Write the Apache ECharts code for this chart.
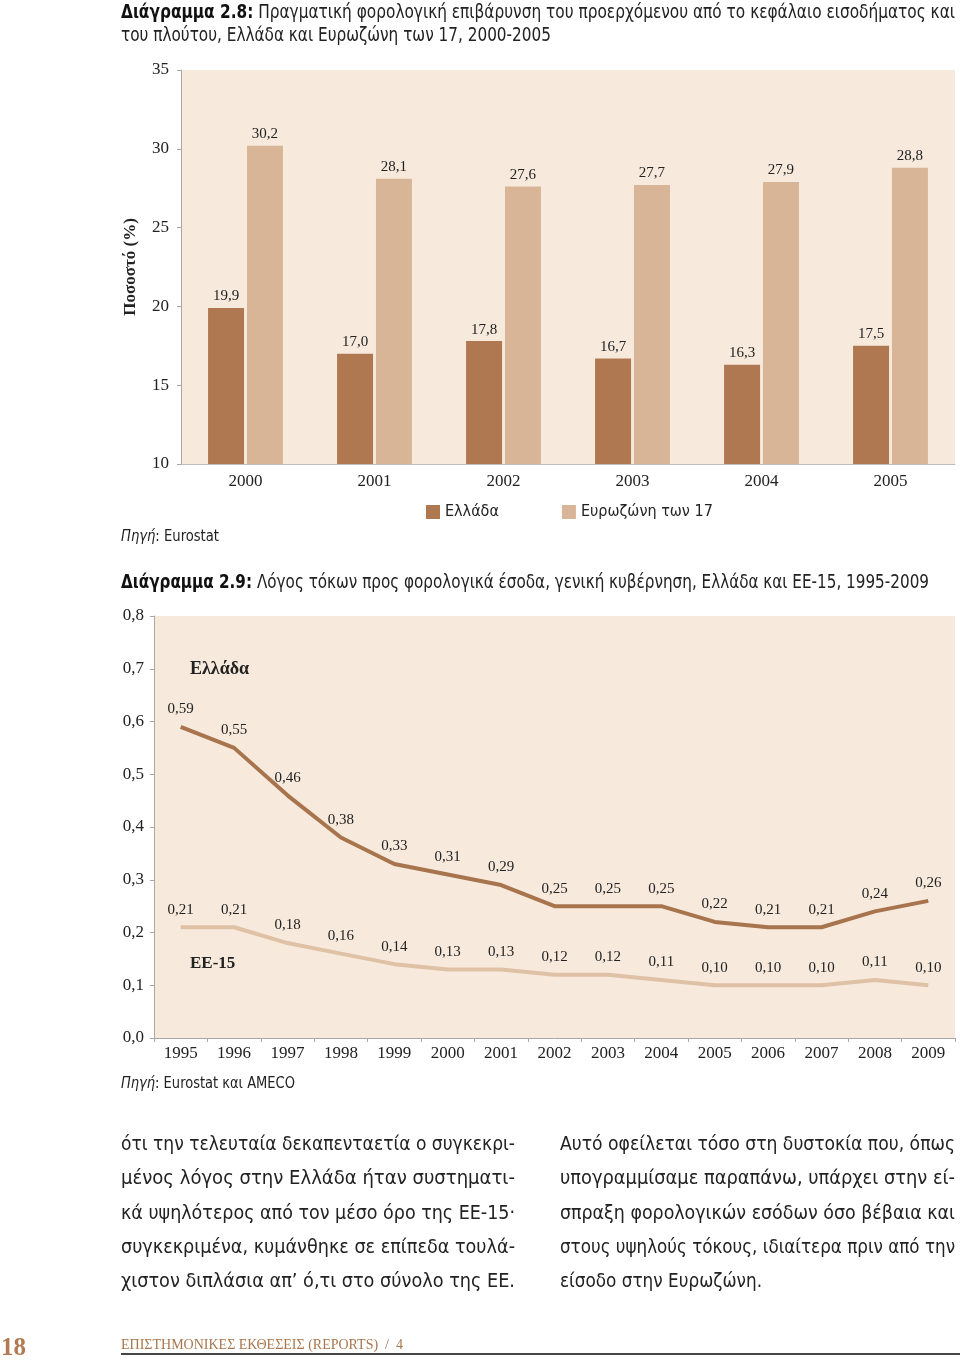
<!DOCTYPE html>
<html>
<head>
<meta charset="utf-8">
<script src="https://cdn.jsdelivr.net/npm/echarts@6/dist/echarts.min.js"></script>
<style>
  html,body{margin:0;padding:0;background:#fff;}
  #page{position:relative;width:960px;height:1362px;overflow:hidden;}
  #chart{position:absolute;left:0;top:0;width:960px;height:1362px;}
  .t{position:absolute;font-family:"DejaVu Sans Condensed","DejaVu Sans",sans-serif;font-stretch:condensed;color:#222;white-space:nowrap;transform-origin:0 50%;}
  .title{font-size:19px;line-height:23px;left:121px;}
  .title b{color:#111;}
  .src{font-size:16px;line-height:20px;left:121px;}
  .src i{font-style:italic;}
  .pl{font-size:20px;line-height:34px;}
</style>
</head>
<body>
<div id="page">
  <div id="chart"></div>
  <div class="t title" data-w="834" style="top:0px;"><b>Διάγραμμα 2.8:</b> Πραγματική φορολογική επιβάρυνση του προερχόμενου από το κεφάλαιο εισοδήματος και</div>
  <div class="t title" data-w="430" style="top:23px;">του πλούτου, Ελλάδα και Ευρωζώνη των 17, 2000-2005</div>
  <div class="t src" data-w="98" style="top:526px;"><i>Πηγή</i>: Eurostat</div>
  <div class="t title" data-w="808" style="top:570px;"><b>Διάγραμμα 2.9:</b> Λόγος τόκων προς φορολογικά έσοδα, γενική κυβέρνηση, Ελλάδα και ΕΕ-15, 1995-2009</div>
  <div class="t src" data-w="174" style="top:1073px;"><i>Πηγή</i>: Eurostat και AMECO</div>

  <div class="t pl" data-w="394" style="left:121px;top:1126px;">ότι την τελευταία δεκαπενταετία ο συγκεκρι-</div>
  <div class="t pl" data-w="394" style="left:121px;top:1160.3px;">μένος λόγος στην Ελλάδα ήταν συστηματι-</div>
  <div class="t pl" data-w="394" style="left:121px;top:1194.6px;">κά υψηλότερος από τον μέσο όρο της ΕΕ-15·</div>
  <div class="t pl" data-w="394" style="left:121px;top:1228.9px;">συγκεκριμένα, κυμάνθηκε σε επίπεδα τουλά-</div>
  <div class="t pl" data-w="394" style="left:121px;top:1263.2px;">χιστον διπλάσια απ’ ό,τι στο σύνολο της ΕΕ.</div>

  <div class="t pl" data-w="395" style="left:560px;top:1126px;">Αυτό οφείλεται τόσο στη δυστοκία που, όπως</div>
  <div class="t pl" data-w="395" style="left:560px;top:1160.3px;">υπογραμμίσαμε παραπάνω, υπάρχει στην εί-</div>
  <div class="t pl" data-w="395" style="left:560px;top:1194.6px;">σπραξη φορολογικών εσόδων όσο βέβαια και</div>
  <div class="t pl" data-w="395" style="left:560px;top:1228.9px;">στους υψηλούς τόκους, ιδιαίτερα πριν από την</div>
  <div class="t pl" data-w="202" style="left:560px;top:1263.2px;">είσοδο στην Ευρωζώνη.</div>

  <div class="t" style="left:1px;top:1333px;font-family:'Liberation Serif',serif;font-weight:bold;font-size:25px;line-height:28px;color:#b07a52;">18</div>
  <div class="t" style="left:121px;top:1336px;font-family:'Liberation Serif',serif;font-size:14px;line-height:18px;color:#a8764e;">ΕΠΙΣΤΗΜΟΝΙΚΕΣ ΕΚΘΕΣΕΙΣ (REPORTS) &nbsp;/ &nbsp;4</div>
  <div style="position:absolute;left:121px;top:1353px;width:839px;height:2px;background:#444;"></div>
</div>
<script>
// fit printed text lines to their widths in the page
document.querySelectorAll('[data-w]').forEach(el => {
  const w = el.getBoundingClientRect().width;
  const target = parseFloat(el.getAttribute('data-w'));
  if (w > 0) el.style.transform = 'scaleX(' + (target / w) + ')';
});

// ---- Chart 2.8 data ----
const years1 = ['2000','2001','2002','2003','2004','2005'];
const greece1 = [19.9, 17.0, 17.8, 16.7, 16.3, 17.5];
const ez17 = [30.2, 28.1, 27.6, 27.7, 27.9, 28.8];
const seriesNames1 = ['Ελλάδα', 'Ευρωζώνη των 17'];

// ---- Chart 2.9 data ----
const years2 = ['1995','1996','1997','1998','1999','2000','2001','2002','2003','2004','2005','2006','2007','2008','2009'];
const greece2 = [0.59, 0.55, 0.46, 0.38, 0.33, 0.31, 0.29, 0.25, 0.25, 0.25, 0.22, 0.21, 0.21, 0.24, 0.26];
const eu15 = [0.21, 0.21, 0.18, 0.16, 0.14, 0.13, 0.13, 0.12, 0.12, 0.11, 0.10, 0.10, 0.10, 0.11, 0.10];
const seriesNames2 = ['Ελλάδα', 'ΕΕ-15'];

const C_GR = '#b07850';
const C_EZ = '#d9b597';
const L_GR = '#a8744d';
const L_EU = '#dfc1a5';
const BG = '#f7eadd';
const NUM = "'Liberation Serif', serif";
const NARROW = "'DejaVu Sans Condensed','DejaVu Sans',sans-serif";
const comma = (v, d) => Number(v).toFixed(d).replace('.', ',');

const chart = echarts.init(document.getElementById('chart'), null, {renderer: 'canvas'});

const option = {
  animation: false,
  textStyle: {fontFamily: NUM},
  grid: [
    {left: 181, top: 70, width: 774, height: 394, show: true, backgroundColor: BG, borderWidth: 0},
    {left: 154, top: 616, width: 801, height: 422, show: true, backgroundColor: BG, borderWidth: 0}
  ],
  legend: {
    data: seriesNames1,
    left: 421, top: 499,
    itemWidth: 14, itemHeight: 14, itemGap: 63,
    icon: 'rect',
    textStyle: {fontFamily: NARROW, fontSize: 16, color: '#222'}
  },
  xAxis: [
    {
      gridIndex: 0, type: 'category', data: years1,
      axisLine: {show: true, lineStyle: {color: '#bdbdbd'}},
      axisTick: {show: false},
      axisLabel: {fontFamily: NUM, fontSize: 17, color: '#222', margin: 9}
    },
    {
      gridIndex: 1, type: 'category', data: years2,
      axisLine: {show: true, lineStyle: {color: '#a8a8a8'}},
      axisTick: {show: true, length: 4, lineStyle: {color: '#a8a8a8'}},
      axisLabel: {fontFamily: NUM, fontSize: 17, color: '#222', margin: 7}
    }
  ],
  yAxis: [
    {
      gridIndex: 0, type: 'value', min: 10, max: 35, interval: 5,
      name: 'Ποσοστό (%)', nameLocation: 'middle', nameGap: 42,
      nameTextStyle: {fontFamily: NUM, fontWeight: 'bold', fontSize: 17, color: '#222'},
      axisLine: {show: true, lineStyle: {color: '#a8a8a8'}},
      axisTick: {show: true, length: 4, lineStyle: {color: '#a8a8a8'}},
      splitLine: {show: false},
      axisLabel: {fontFamily: NUM, fontSize: 17, color: '#222', margin: 12}
    },
    {
      gridIndex: 1, type: 'value', min: 0, max: 0.8, interval: 0.1,
      axisLine: {show: true, lineStyle: {color: '#a8a8a8'}},
      axisTick: {show: true, length: 4, lineStyle: {color: '#a8a8a8'}},
      splitLine: {show: false},
      axisLabel: {fontFamily: NUM, fontSize: 17, color: '#222', margin: 10, formatter: v => comma(v, 1)}
    }
  ],
  series: [
    {
      name: seriesNames1[0], type: 'bar', xAxisIndex: 0, yAxisIndex: 0,
      data: greece1, barWidth: 36, barGap: '8%',
      itemStyle: {color: C_GR},
      label: {show: true, position: 'top', distance: 4, fontFamily: NUM, fontSize: 15, color: '#222',
        formatter: p => comma(p.value, 1)}
    },
    {
      name: seriesNames1[1], type: 'bar', xAxisIndex: 0, yAxisIndex: 0,
      data: ez17, barWidth: 36, barGap: '8%',
      itemStyle: {color: C_EZ},
      label: {show: true, position: 'top', distance: 4, fontFamily: NUM, fontSize: 15, color: '#222',
        formatter: p => comma(p.value, 1)}
    },
    {
      name: seriesNames2[0], type: 'line', xAxisIndex: 1, yAxisIndex: 1,
      data: greece2, symbol: 'circle', symbolSize: 0, showSymbol: true,
      lineStyle: {color: L_GR, width: 4},
      itemStyle: {color: L_GR},
      label: {show: true, position: 'top', distance: 10, fontFamily: NUM, fontSize: 15, color: '#222',
        formatter: p => comma(p.value, 2)}
    },
    {
      name: seriesNames2[1], type: 'line', xAxisIndex: 1, yAxisIndex: 1,
      data: eu15, symbol: 'circle', symbolSize: 0, showSymbol: true,
      lineStyle: {color: L_EU, width: 4},
      itemStyle: {color: L_EU},
      label: {show: true, position: 'top', distance: 10, fontFamily: NUM, fontSize: 15, color: '#222',
        formatter: p => comma(p.value, 2)}
    }
  ],
  graphic: [
    {type: 'text', left: 190, top: 660, style: {text: seriesNames2[0], font: "bold 18px 'Liberation Serif', serif", fill: '#222'}},
    {type: 'text', left: 190, top: 955, style: {text: seriesNames2[1], font: "bold 17px 'Liberation Serif', serif", fill: '#222'}}
  ]
};
chart.setOption(option);
</script>
</body>
</html>
